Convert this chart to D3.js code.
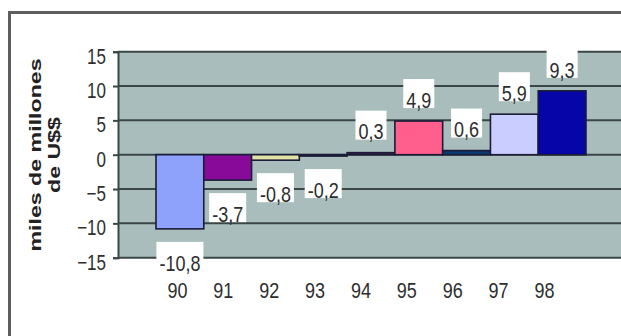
<!DOCTYPE html>
<html>
<head>
<meta charset="utf-8">
<script src="https://cdn.jsdelivr.net/npm/d3@7"></script>
<style>
  html, body { margin: 0; padding: 0; background: #ffffff; }
  svg { display: block; font-family: "Liberation Sans", Arial, sans-serif; }
</style>
</head>
<body>
<svg id="chart" width="621" height="336"></svg>
<script>
// Balance by year, thousands of millions of US$
const years = ["90", "91", "92", "93", "94", "95", "96", "97", "98"];
const values = [-10.8, -3.7, -0.8, -0.2, 0.3, 4.9, 0.6, 5.9, 9.3];
const labels = ["-10,8", "-3,7", "-0,8", "-0,2", "0,3", "4,9", "0,6", "5,9", "9,3"];
const barColors = ["#8ea2fb", "#880a98", "#e2e2a6", "#c8e6e6", "#4a1a4a",
                   "#ff5f8c", "#0a3a72", "#c9cdff", "#0505a8"];
const yTicks = [15, 10, 5, 0, -5, -10, -15];
const yTitle = ["miles de millones", "de U$$"];

const svg = d3.select("#chart");
const STRETCH = 1.25;        // text is drawn tall and narrow
const TITLE_STRETCH = 1.45;

const plot = { left: 118, right: 630, top: 51.7, bottom: 257.7 };

const y = d3.scaleLinear().domain([-15, 15]).range([plot.bottom, plot.top]);
const x = d3.scaleBand().domain(years).range([156, 586]).padding(0);
const xLab = d3.scalePoint().domain(years).range([177, 544]);

// outer frame
svg.append("rect")
  .attr("x", 9.5).attr("y", 12.5).attr("width", 700).attr("height", 400)
  .attr("fill", "none").attr("stroke", "#5e5e5e").attr("stroke-width", 3);

// plot background
svg.append("rect")
  .attr("x", plot.left).attr("y", plot.top)
  .attr("width", plot.right - plot.left).attr("height", plot.bottom - plot.top)
  .attr("fill", "#aabdbd");

// horizontal gridlines
svg.append("g").selectAll("line").data(yTicks).join("line")
  .attr("x1", plot.left).attr("x2", plot.right)
  .attr("y1", d => y(d)).attr("y2", d => y(d))
  .attr("stroke", "#3b4747").attr("stroke-width", 2);

// y axis
const yAxis = svg.append("g")
  .attr("transform", `translate(${plot.left},0)`)
  .call(d3.axisLeft(y).tickValues(yTicks).tickSize(5).tickPadding(7));
yAxis.select(".domain").attr("stroke", "#3b4747").attr("stroke-width", 2);
yAxis.selectAll(".tick line").attr("stroke", "#3b4747").attr("stroke-width", 2);
yAxis.selectAll(".tick text")
  .attr("font-size", 17).attr("fill", "#2e2e2e")
  .attr("dy", null).attr("y", 3.5)
  .attr("dominant-baseline", "central")
  .attr("transform", `scale(1,${STRETCH})`);

// bars
svg.append("g").selectAll("rect").data(values).join("rect")
  .attr("x", (d, i) => x(years[i]))
  .attr("width", x.bandwidth())
  .attr("y", d => y(Math.max(0, d)))
  .attr("height", d => Math.abs(y(d) - y(0)))
  .attr("fill", (d, i) => barColors[i])
  .attr("stroke", "#1a1c38").attr("stroke-width", 1.6);

// value labels on white boxes
const valG = svg.append("g").selectAll("g").data(values).join("g")
  .attr("transform", (d, i) => {
    const cx = x(years[i]) + x.bandwidth() / 2;
    const cy = d >= 0 ? y(d) - 21 : y(d) + 34;
    return `translate(${cx},${cy}) scale(1,${STRETCH})`;
  });
valG.append("rect").attr("fill", "#ffffff");
const valText = valG.append("text")
  .attr("text-anchor", "middle").attr("dominant-baseline", "central")
  .attr("font-size", 18).attr("fill", "#2e2e2e")
  .text((d, i) => labels[i]);
valText.each(function () {
  const bb = this.getBBox();
  d3.select(this.previousSibling)
    .attr("x", bb.x - 3).attr("width", bb.width + 6)
    .attr("y", -21 / STRETCH).attr("height", 29 / STRETCH);
});

// x axis labels
const xAxis = svg.append("g")
  .attr("transform", `translate(0,${plot.bottom})`)
  .call(d3.axisBottom(xLab).tickSize(0));
xAxis.select(".domain").remove();
xAxis.selectAll(".tick text")
  .attr("font-size", 18).attr("fill", "#2e2e2e")
  .attr("dy", null).attr("y", 33 / STRETCH)
  .attr("dominant-baseline", "central")
  .attr("transform", `scale(1,${STRETCH})`);

// y axis title
const title = svg.append("g")
  .attr("transform", `translate(0,155) scale(1,${TITLE_STRETCH}) rotate(-90)`);
title.selectAll("text").data(yTitle).join("text")
  .attr("x", 0).attr("y", (d, i) => 41 + i * 19)
  .attr("text-anchor", "middle")
  .attr("font-size", 16).attr("font-weight", "bold").attr("fill", "#222")
  .text(d => d);
</script>
</body>
</html>
